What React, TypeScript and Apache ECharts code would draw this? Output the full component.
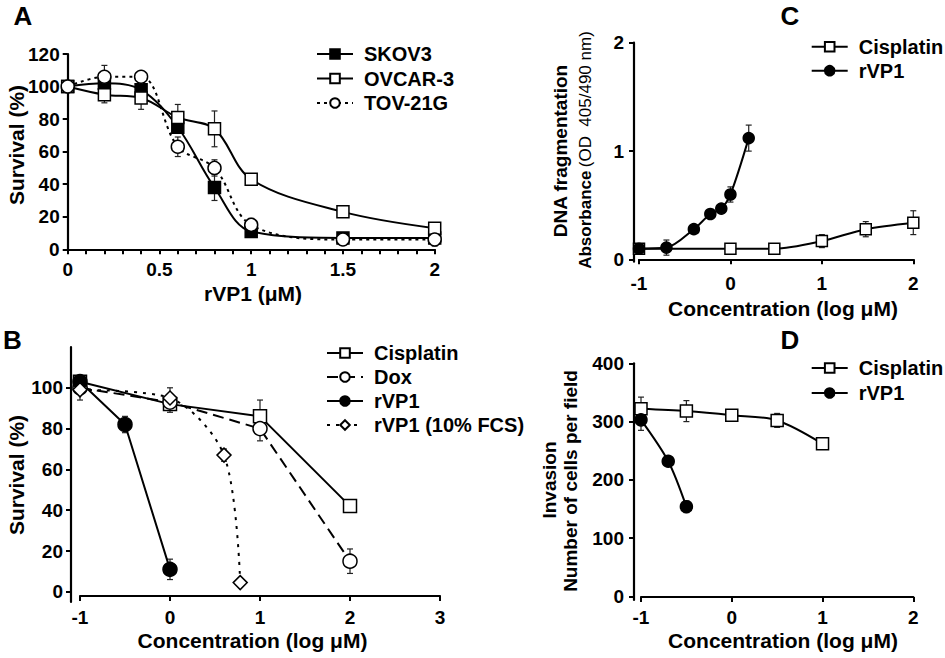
import React, { useEffect, useRef } from "react";
import * as echarts from "echarts";

// ---------- Panel A ----------
const aDose = [0, 0.2, 0.4, 0.6, 0.8, 1, 1.5, 2];
const aSkov3 = [100, 102, 98, 75, 38, 11, 7, 7];
const aSkov3Err = [0, 2, 3, 3, 8, 2, 1, 1];
const aOvcar3 = [100, 95, 93, 81, 74, 43, 23, 13];
const aOvcar3Err = [0, 5, 7, 8, 11, 3, 1, 2];
const aTov21g = [100, 106, 106, 63, 50, 15, 6, 6];
const aTov21gErr = [0, 7, 3, 6, 5, 4, 1, 4];
const aXTicks = [0, 0.1, 0.2, 0.3, 0.4, 0.5, 0.6, 0.7, 0.8, 0.9, 1, 1.1, 1.2, 1.3, 1.4, 1.5, 1.6, 1.7, 1.8, 1.9, 2];
const aXLabels = [0, 0.5, 1, 1.5, 2];

// ---------- Panel B ----------
const bCisDose = [-1, 0, 1, 2];
const bCis = [103, 92, 86, 42];
const bCisErr = [2, 4, 8, 3];
const bDoxDose = [-1, 0, 1, 2];
const bDox = [100, 93, 80, 15];
const bDoxErr = [2, 3, 6, 6];
const bVp1Dose = [-1, -0.5, 0];
const bVp1 = [103, 82, 11];
const bVp1Err = [2, 4, 5];
const bFcsDose = [-1, 0, 0.6, 0.78];
const bFcs = [99, 95, 67, 4.5];
const bFcsErr = [5, 5, 3, 0];
const bYLabels = [0, 20, 40, 60, 80, 100];

// ---------- Panel C ----------
const cVp1Dose = [-1, -0.7, -0.4, -0.22, -0.1, 0, 0.2];
const cVp1 = [0.1, 0.11, 0.28, 0.42, 0.47, 0.6, 1.12];
const cVp1Err = [0.02, 0.07, 0.03, 0.03, 0.04, 0.07, 0.12];
const cCisDose = [-1, 0, 0.48, 1, 1.48, 2];
const cCis = [0.1, 0.1, 0.1, 0.17, 0.28, 0.34];
const cCisErr = [0.01, 0.04, 0.04, 0.06, 0.07, 0.11];
const cYLabels = [0, 1, 2];

// ---------- Panel D ----------
const dCisDose = [-1, -0.5, 0, 0.5, 1];
const dCis = [322, 318, 311, 302, 262];
const dCisErr = [20, 18, 7, 12, 4];
const dVp1Dose = [-1, -0.7, -0.5];
const dVp1 = [303, 232, 154];
const dVp1Err = [18, 5, 10];
const dYLabels = [0, 100, 200, 300, 400];

const FONT = '"Liberation Sans", Arial, Helvetica, sans-serif';

function pairs(xs: number[], ys: number[]) {
  return xs.map((x, i) => [x, ys[i]]);
}
function triples(xs: number[], ys: number[], es: number[]) {
  return xs.map((x, i) => [x, ys[i], es[i]]);
}

function errRender(params: any, api: any) {
  const x = api.value(0);
  const y = api.value(1);
  const e = api.value(2);
  if (!e) return { type: "group", children: [] };
  const t = api.coord([x, y + e]);
  const b = api.coord([x, y - e]);
  const w = 3;
  const st = { stroke: "#222", lineWidth: 1.2 };
  return {
    type: "group",
    children: [
      { type: "line", shape: { x1: t[0], y1: t[1], x2: b[0], y2: b[1] }, style: st },
      { type: "line", shape: { x1: t[0] - w, y1: t[1], x2: t[0] + w, y2: t[1] }, style: st },
      { type: "line", shape: { x1: b[0] - w, y1: b[1], x2: b[0] + w, y2: b[1] }, style: st },
    ],
  };
}

function lineSeries(
  name: string,
  idx: number,
  xs: number[],
  ys: number[],
  symbol: string,
  filled: boolean,
  lineType: any,
  smooth: number | boolean,
  size: number
) {
  return {
    type: "line",
    name,
    xAxisIndex: idx,
    yAxisIndex: idx,
    data: pairs(xs, ys),
    symbol,
    symbolSize: size,
    showSymbol: true,
    smooth,
    clip: false,
    z: 3,
    lineStyle: { color: "#000", width: 2, type: lineType },
    itemStyle: { color: filled ? "#000" : "#fff", borderColor: "#000", borderWidth: 1.5 },
    emphasis: { disabled: true },
  };
}

function errSeries(idx: number, xs: number[], ys: number[], es: number[]) {
  return {
    type: "custom",
    xAxisIndex: idx,
    yAxisIndex: idx,
    data: triples(xs, ys, es),
    encode: { x: 0, y: 1 },
    renderItem: errRender,
    z: 1,
    clip: false,
    silent: true,
  };
}

const axisLine = { show: true, onZero: false, lineStyle: { color: "#000", width: 2.2 } };
const axisTick = { show: true, length: 5, lineStyle: { color: "#000", width: 2 } };
const labelStyle = { color: "#000", fontFamily: FONT, fontWeight: "bold", fontSize: 19 };

function legend(left: number, top: number, names: string[], gap: number) {
  return {
    left,
    top,
    padding: 0,
    orient: "vertical",
    itemWidth: 36,
    itemHeight: 12,
    itemGap: gap,
    selectedMode: false,
    data: names,
    textStyle: {
      color: "#000",
      fontFamily: FONT,
      fontWeight: "bold",
      fontSize: 20,
      lineHeight: 20,
      padding: [0, 0, 0, 6],
    },
  };
}

function txt(x: number, y: number, text: string, size: number, rotate = false, weight = "bold") {
  return {
    type: "text",
    x,
    y,
    rotation: rotate ? Math.PI / 2 : 0,
    style: {
      text,
      fill: "#000",
      font: `${weight} ${size}px ${FONT}`,
      align: "center",
      verticalAlign: "middle",
    },
  };
}

export default function App() {
  const ref = useRef<HTMLDivElement>(null);
  useEffect(() => {
    if (!ref.current) return;
    const chart = echarts.init(ref.current, null, { renderer: "svg" });
    const option: any = {
      animation: false,
      backgroundColor: "#fff",
      grid: [
        { left: 67.7, top: 54, width: 367, height: 195.3 },
        { left: 80, top: 347, width: 360, height: 255 },
        { left: 639, top: 42.7, width: 274.3, height: 219 },
        { left: 641, top: 363.3, width: 272.3, height: 236.7 },
      ],
      xAxis: [
        {
          gridIndex: 0, type: "value", min: 0, max: 2, splitLine: { show: false },
          axisLine, axisTick: { ...axisTick, customValues: aXTicks },
          axisLabel: { ...labelStyle, margin: 11, customValues: aXLabels, formatter: (v: number) => String(v) },
        },
        {
          gridIndex: 1, type: "value", min: -1, max: 3, interval: 1, offset: -6, splitLine: { show: false },
          axisLine, axisTick, axisLabel: { ...labelStyle, margin: 12 },
        },
        {
          gridIndex: 2, type: "value", min: -1, max: 2, interval: 1, offset: -2.4, splitLine: { show: false },
          axisLine, axisTick, axisLabel: { ...labelStyle, margin: 15 },
        },
        {
          gridIndex: 3, type: "value", min: -1, max: 2, interval: 1, offset: -3, splitLine: { show: false },
          axisLine, axisTick, axisLabel: { ...labelStyle, margin: 11 },
        },
      ],
      yAxis: [
        {
          gridIndex: 0, type: "value", min: 0, max: 120, interval: 20, splitLine: { show: false },
          axisLine, axisTick, axisLabel: { ...labelStyle, margin: 8 },
        },
        {
          gridIndex: 1, type: "value", min: -5, max: 120, offset: 9, splitLine: { show: false },
          axisLine, axisTick: { ...axisTick, customValues: bYLabels },
          axisLabel: { ...labelStyle, margin: 8, customValues: bYLabels },
        },
        {
          gridIndex: 2, type: "value", min: -0.02, max: 2, offset: 5, splitLine: { show: false },
          axisLine, axisTick: { ...axisTick, customValues: cYLabels },
          axisLabel: { ...labelStyle, margin: 10, customValues: cYLabels },
        },
        {
          gridIndex: 3, type: "value", min: -6, max: 400, offset: 7, splitLine: { show: false },
          axisLine, axisTick: { ...axisTick, customValues: dYLabels },
          axisLabel: { ...labelStyle, margin: 10, customValues: dYLabels },
        },
      ],
      legend: [
        legend(316, 44, ["SKOV3", "OVCAR-3", "TOV-21G"], 4.5),
        legend(326, 343, ["Cisplatin", "Dox", "rVP1", "rVP1 (10% FCS)"], 4),
        legend(810.7, 36.7, ["Cisplatin", "rVP1"], 4),
        legend(810.7, 358, ["Cisplatin", "rVP1"], 5),
      ],
      series: [
        // A
        errSeries(0, aDose, aSkov3, aSkov3Err),
        errSeries(0, aDose, aOvcar3, aOvcar3Err),
        errSeries(0, aDose, aTov21g, aTov21gErr),
        lineSeries("SKOV3", 0, aDose, aSkov3, "rect", true, "solid", 0.35, 12),
        lineSeries("OVCAR-3", 0, aDose, aOvcar3, "rect", false, "solid", 0.35, 12),
        lineSeries("TOV-21G", 0, aDose, aTov21g, "circle", false, [3, 4], 0.35, 13),
        // B
        errSeries(1, bCisDose, bCis, bCisErr),
        errSeries(1, bDoxDose, bDox, bDoxErr),
        errSeries(1, bVp1Dose, bVp1, bVp1Err),
        errSeries(1, bFcsDose, bFcs, bFcsErr),
        lineSeries("Cisplatin", 1, bCisDose, bCis, "rect", false, "solid", false, 13),
        lineSeries("Dox", 1, bDoxDose, bDox, "circle", false, [11, 6], false, 14),
        lineSeries("rVP1", 1, bVp1Dose, bVp1, "circle", true, "solid", false, 14),
        lineSeries("rVP1 (10% FCS)", 1, bFcsDose, bFcs, "diamond", false, [3, 6], 0.3, 14),
        // C
        errSeries(2, cCisDose, cCis, cCisErr),
        errSeries(2, cVp1Dose, cVp1, cVp1Err),
        lineSeries("Cisplatin", 2, cCisDose, cCis, "rect", false, "solid", 0.3, 11),
        lineSeries("rVP1", 2, cVp1Dose, cVp1, "circle", true, "solid", 0.3, 11),
        // D
        errSeries(3, dCisDose, dCis, dCisErr),
        errSeries(3, dVp1Dose, dVp1, dVp1Err),
        lineSeries("Cisplatin", 3, dCisDose, dCis, "rect", false, "solid", 0.3, 12),
        lineSeries("rVP1", 3, dVp1Dose, dVp1, "circle", true, "solid", 0.3, 12),
      ],
      graphic: [
        txt(23, 16, "A", 26),
        txt(12.5, 340, "B", 26),
        txt(790, 16, "C", 26),
        txt(790, 340, "D", 26),
        txt(16, 145, "Survival (%)", 21, true),
        txt(253, 293, "rVP1 (μM)", 21),
        txt(16, 475, "Survival (%)", 21, true),
        txt(252.5, 640, "Concentration (log μM)", 21),
        txt(560, 151, "DNA fragmentation", 19, true),
        {
          type: "text",
          x: 585,
          y: 150,
          rotation: Math.PI / 2,
          style: {
            text: "{b|Absorbance} {n|(OD  405/490 nm)}",
            fill: "#000",
            align: "center",
            verticalAlign: "middle",
            rich: {
              b: { fontFamily: FONT, fontWeight: "bold", fontSize: 17, fill: "#000" },
              n: { fontFamily: FONT, fontWeight: "normal", fontSize: 17, fill: "#000" },
            },
          },
        },
        txt(783, 308, "Concentration (log μM)", 21),
        txt(549, 480, "Invasion", 19, true),
        txt(570, 481, "Number of cells per field", 19, true),
        txt(783, 640, "Concentration (log μM)", 21),
      ],
    };
    chart.setOption(option);
    return () => chart.dispose();
  }, []);
  return (
    <div
      ref={ref}
      style={{ position: "fixed", left: 0, top: 0, width: 945, height: 658, background: "#fff" }}
    />
  );
}
